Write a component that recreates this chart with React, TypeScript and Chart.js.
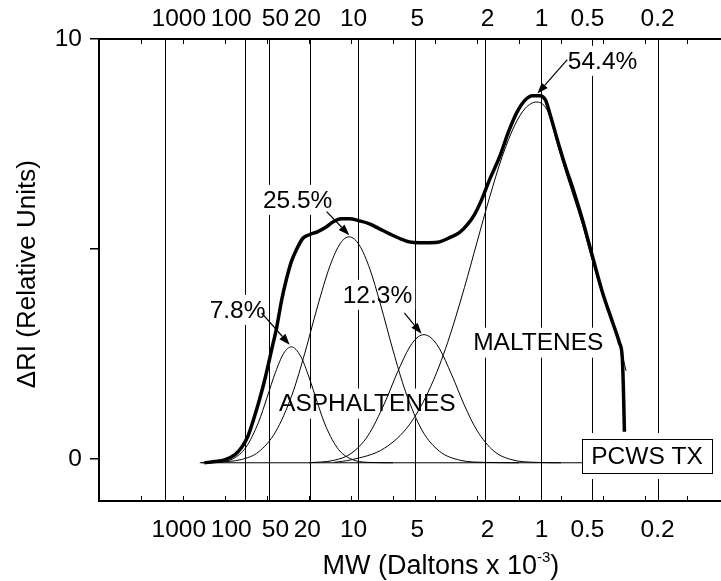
import React, { useEffect, useRef } from 'react';
import { Chart, registerables } from 'chart.js';

Chart.register(...registerables);

// ---------- DATA ----------
// MW tick labels (Daltons x 10^-3), the elution positions of their lines and of their labels
const MW_LABELS = ['1000', '100', '50', '20', '10', '5', '2', '1', '0.5', '0.2'];
const MW_LINE_POS = [1.595, 3.488, 4.06, 5.024, 6.179, 7.536, 9.214, 10.536, 11.75, 13.31];
const MW_LABEL_POS = [1.9, 3.15, 4.2, 4.96, 6.06, 7.58, 9.25, 10.54, 11.63, 13.3];
const MINOR_TICKS = [1, 2, 3, 4, 5, 6, 7, 8, 9, 10, 11, 12, 13, 14];
const Y_TICKS = [0, 5, 10];
const X_MIN = 0;
const X_MAX = 14.81;
const Y_MIN = -1;
const Y_MAX = 10;

// measured chromatogram (thick)
const TOTAL_X = [2.51, 2.75, 2.99, 3.23, 3.39, 3.54, 3.68, 3.82, 3.96, 4.11, 4.23, 4.35, 4.46, 4.58, 4.7, 4.85, 5.01, 5.2, 5.39, 5.58, 5.77, 5.96, 6.2, 6.44, 6.68, 6.92, 7.16, 7.39, 7.63, 7.87, 8.11, 8.35, 8.58, 8.77, 8.94, 9.11, 9.3, 9.54, 9.77, 9.96, 10.15, 10.32, 10.49, 10.63, 10.73, 10.96, 11.13, 11.27, 11.51, 11.75, 11.99, 12.23, 12.39, 12.46, 12.49, 12.51];
const TOTAL_Y = [-0.09, -0.06, -0.02, 0.1, 0.27, 0.53, 0.94, 1.41, 1.94, 2.6, 3.13, 3.79, 4.27, 4.7, 4.98, 5.25, 5.34, 5.41, 5.51, 5.65, 5.72, 5.72, 5.67, 5.6, 5.48, 5.36, 5.25, 5.17, 5.15, 5.15, 5.17, 5.27, 5.39, 5.58, 5.82, 6.17, 6.65, 7.2, 7.84, 8.27, 8.55, 8.65, 8.65, 8.55, 8.24, 7.44, 6.89, 6.48, 5.7, 4.82, 3.96, 3.25, 2.77, 2.41, 1.53, 0.65];

// fitted component 7.8 %
const G1_X = [2.4, 2.8, 3.2, 3.5, 3.8, 4.0, 4.2, 4.4, 4.58, 4.8, 5.0, 5.2, 5.4, 5.7, 6.0, 6.4, 7.0];
const G1_Y = [-0.09, -0.08, 0.01, 0.28, 0.88, 1.46, 2.06, 2.52, 2.67, 2.45, 1.95, 1.34, 0.78, 0.23, 0.0, -0.08, -0.09];
// fitted component 25.5 %
const G2_X = [2.8, 3.4, 3.8, 4.2, 4.6, 4.9, 5.2, 5.5, 5.75, 5.96, 6.2, 6.45, 6.7, 7.0, 7.3, 7.7, 8.1, 8.6, 9.2, 10.0];
const G2_Y = [-0.08, -0.01, 0.17, 0.64, 1.54, 2.52, 3.62, 4.6, 5.14, 5.29, 5.09, 4.52, 3.69, 2.59, 1.6, 0.67, 0.19, -0.03, -0.08, -0.09];
// fitted component 12.3 %
const G3_X = [5.0, 5.6, 6.0, 6.4, 6.8, 7.1, 7.4, 7.6, 7.74, 7.9, 8.1, 8.4, 8.7, 9.0, 9.4, 9.8, 10.4, 11.0];
const G3_Y = [-0.09, -0.03, 0.13, 0.55, 1.33, 2.05, 2.67, 2.91, 2.96, 2.89, 2.64, 2.0, 1.28, 0.68, 0.19, -0.01, -0.08, -0.09];
// fitted component 54.4 %
const G4_X = [5.6, 6.0, 6.8, 7.4, 7.9, 8.3, 8.7, 9.0, 9.3, 9.6, 9.9, 10.15, 10.42, 10.7, 10.9, 11.1, 11.3, 11.5, 11.75, 12.0, 12.2, 12.4, 12.55];
const G4_Y = [-0.08, -0.02, 0.26, 0.83, 1.73, 2.77, 4.08, 5.16, 6.23, 7.2, 7.95, 8.35, 8.5, 8.25, 7.55, 6.88, 6.25, 5.62, 4.72, 3.88, 3.28, 2.7, 2.1];
// baseline
const BASE_X = [2.45, 14.3];
const BASE_Y = [-0.09, -0.09];

// ---------- ANNOTATIONS (data coordinates) ----------
const LABELS = [
  { text: '7.8%', x: 3.3, y: 3.55 },
  { text: '25.5%', x: 4.73, y: 6.17 },
  { text: '12.3%', x: 6.63, y: 3.91 },
  { text: '54.4%', x: 11.99, y: 9.48 },
  { text: 'MALTENES', x: 10.46, y: 2.77 },
  { text: 'ASPHALTENES', x: 6.39, y: 1.32 },
];
const ARROWS = [
  { from: [3.87, 3.48], to: [4.54, 2.72] },
  { from: [5.42, 5.89], to: [5.96, 5.33] },
  { from: [7.27, 3.48], to: [7.68, 2.98] },
  { from: [11.15, 9.51], to: [10.44, 8.7] },
];
const BOX = { text: 'PCWS TX', x: 13.05, y: 0.07 };
const X_TITLE_POS = { x: 8.14 };
const Y_TITLE_POS = { y: 4.4 };

const FONT = '"Liberation Sans", Arial, Helvetica, sans-serif';
const LABEL_SIZE = 24.5;

const pts = (xs: number[], ys: number[]) => xs.map((x, i) => ({ x, y: ys[i] }));

const overlayPlugin = {
  id: 'overlay',
  beforeDatasetsDraw(chart: any) {
    const { ctx } = chart;
    const xs = chart.scales.x;
    const ys = chart.scales.y;
    ctx.save();
    ctx.fillStyle = '#ffffff';
    ctx.font = `${LABEL_SIZE}px ${FONT}`;
    for (const l of LABELS) {
      const cx = xs.getPixelForValue(l.x);
      const cy = ys.getPixelForValue(l.y);
      const w = ctx.measureText(l.text).width;
      ctx.fillRect(cx - w / 2 - 3, cy - 15, w + 6, 30);
    }
    const bx = xs.getPixelForValue(BOX.x);
    const by = ys.getPixelForValue(BOX.y);
    const bw = ctx.measureText(BOX.text).width + 18;
    ctx.fillRect(bx - bw / 2 - 6, by - 17 - 6, bw + 12, 34 + 12);
    ctx.restore();
  },
  afterDatasetsDraw(chart: any) {
    const { ctx, chartArea } = chart;
    const xs = chart.scales.x;
    const ys = chart.scales.y;
    ctx.save();
    // minor ticks (inside, top and bottom)
    ctx.strokeStyle = '#000';
    ctx.lineWidth = 1;
    ctx.beginPath();
    for (const v of MINOR_TICKS) {
      const x = Math.round(xs.getPixelForValue(v)) + 0.5;
      ctx.moveTo(x, chartArea.top);
      ctx.lineTo(x, chartArea.top + 5);
      ctx.moveTo(x, chartArea.bottom);
      ctx.lineTo(x, chartArea.bottom - 5);
    }
    ctx.stroke();

    // arrows
    ctx.fillStyle = '#000';
    for (const a of ARROWS) {
      const x1 = xs.getPixelForValue(a.from[0]);
      const y1 = ys.getPixelForValue(a.from[1]);
      const x2 = xs.getPixelForValue(a.to[0]);
      const y2 = ys.getPixelForValue(a.to[1]);
      const ang = Math.atan2(y2 - y1, x2 - x1);
      const L = 11;
      const W = 4;
      const hx = x2 - L * Math.cos(ang);
      const hy = y2 - L * Math.sin(ang);
      ctx.lineWidth = 1.2;
      ctx.beginPath();
      ctx.moveTo(x1, y1);
      ctx.lineTo(hx, hy);
      ctx.stroke();
      ctx.beginPath();
      ctx.moveTo(x2, y2);
      ctx.lineTo(hx + W * Math.sin(ang), hy - W * Math.cos(ang));
      ctx.lineTo(hx - W * Math.sin(ang), hy + W * Math.cos(ang));
      ctx.closePath();
      ctx.fill();
    }

    // labels
    ctx.font = `${LABEL_SIZE}px ${FONT}`;
    ctx.textAlign = 'center';
    ctx.textBaseline = 'middle';
    ctx.fillStyle = '#000';
    for (const l of LABELS) {
      ctx.fillText(l.text, xs.getPixelForValue(l.x), ys.getPixelForValue(l.y) + 1);
    }

    // PCWS TX box
    const bx = xs.getPixelForValue(BOX.x);
    const by = ys.getPixelForValue(BOX.y);
    const bw = ctx.measureText(BOX.text).width + 18;
    ctx.fillStyle = '#fff';
    ctx.fillRect(bx - bw / 2, by - 17, bw, 34);
    ctx.strokeStyle = '#000';
    ctx.lineWidth = 1;
    ctx.strokeRect(Math.round(bx - bw / 2) + 0.5, Math.round(by - 17) + 0.5, Math.round(bw), 34);
    ctx.fillStyle = '#000';
    ctx.fillText(BOX.text, bx, by + 1);
    ctx.restore();
  },
  afterDraw(chart: any) {
    const { ctx } = chart;
    const xs = chart.scales.x;
    const ys = chart.scales.y;
    ctx.save();
    // x-axis title with superscript
    const main = 'MW (Daltons x 10';
    const sup = '-3';
    const close = ')';
    ctx.font = `27px ${FONT}`;
    const w1 = ctx.measureText(main).width;
    const w3 = ctx.measureText(close).width;
    ctx.font = `15px ${FONT}`;
    const w2 = ctx.measureText(sup).width;
    const cx = xs.getPixelForValue(X_TITLE_POS.x);
    const base = 574;
    let x = cx - (w1 + w2 + w3) / 2;
    ctx.fillStyle = '#000';
    ctx.textAlign = 'left';
    ctx.textBaseline = 'alphabetic';
    ctx.font = `27px ${FONT}`;
    ctx.fillText(main, x, base);
    x += w1;
    ctx.font = `15px ${FONT}`;
    ctx.fillText(sup, x, base - 12);
    x += w2;
    ctx.font = `27px ${FONT}`;
    ctx.fillText(close, x, base);

    // y-axis title
    ctx.translate(28, ys.getPixelForValue(Y_TITLE_POS.y));
    ctx.rotate(-Math.PI / 2);
    ctx.textAlign = 'center';
    ctx.textBaseline = 'middle';
    ctx.font = `26px ${FONT}`;
    ctx.fillText('ΔRI (Relative Units)', 0, 0);
    ctx.restore();
  },
};

export default function App() {
  const ref = useRef<HTMLCanvasElement>(null);
  useEffect(() => {
    const thin = {
      borderColor: '#000',
      borderWidth: 1,
      pointRadius: 0,
      fill: false,
      cubicInterpolationMode: 'monotone' as const,
      xAxisID: 'x',
      yAxisID: 'y',
    };
    const tickFont = { family: FONT, size: LABEL_SIZE };
    const chart = new Chart(ref.current as HTMLCanvasElement, {
      type: 'line',
      data: {
        datasets: [
          { ...thin, data: pts(TOTAL_X, TOTAL_Y), borderWidth: 3.5 },
          { ...thin, data: pts(G1_X, G1_Y) },
          { ...thin, data: pts(G2_X, G2_Y) },
          { ...thin, data: pts(G3_X, G3_Y) },
          { ...thin, data: pts(G4_X, G4_Y) },
          { ...thin, data: pts(BASE_X, BASE_Y) },
        ],
      },
      options: {
        responsive: false,
        animation: false,
        events: [],
        layout: { padding: 0 },
        plugins: { legend: { display: false }, tooltip: { enabled: false } },
        scales: {
          x: {
            type: 'linear',
            position: 'bottom',
            min: X_MIN,
            max: X_MAX,
            afterBuildTicks: (s: any) => {
              s.ticks = MW_LABEL_POS.map((v) => ({ value: v }));
            },
            afterFit: (s: any) => {
              s.height = 80;
            },
            ticks: {
              autoSkip: false,
              maxRotation: 0,
              minRotation: 0,
              padding: 7,
              color: '#000',
              font: tickFont,
              callback: (_v: any, i: number) => MW_LABELS[i],
            },
            grid: { display: false },
            border: { display: true, color: '#000', width: 2 },
          },
          x2: {
            type: 'linear',
            position: 'top',
            min: X_MIN,
            max: X_MAX,
            afterBuildTicks: (s: any) => {
              s.ticks = MW_LABEL_POS.map((v) => ({ value: v }));
            },
            afterFit: (s: any) => {
              s.height = 39;
            },
            ticks: {
              autoSkip: false,
              maxRotation: 0,
              minRotation: 0,
              padding: -3,
              color: '#000',
              font: tickFont,
              callback: (_v: any, i: number) => MW_LABELS[i],
            },
            grid: { display: false },
            border: { display: true, color: '#000', width: 2 },
          },
          xg: {
            type: 'linear',
            position: 'bottom',
            min: X_MIN,
            max: X_MAX,
            afterBuildTicks: (s: any) => {
              s.ticks = MW_LINE_POS.map((v) => ({ value: v }));
            },
            afterFit: (s: any) => {
              s.height = 0;
            },
            ticks: { display: false },
            grid: { display: true, drawOnChartArea: true, drawTicks: false, color: '#000', lineWidth: 1 },
            border: { display: false },
          },
          y: {
            type: 'linear',
            position: 'left',
            min: Y_MIN,
            max: Y_MAX,
            afterBuildTicks: (s: any) => {
              s.ticks = Y_TICKS.map((v) => ({ value: v }));
            },
            afterFit: (s: any) => {
              s.width = 99;
            },
            ticks: {
              padding: 8,
              color: '#000',
              font: tickFont,
              callback: (v: any) => (v === 5 ? '' : String(v)),
            },
            grid: { drawOnChartArea: false, drawTicks: true, tickLength: 9, color: '#000', lineWidth: 1.5 },
            border: { display: true, color: '#000', width: 2 },
          },
        },
      },
      plugins: [overlayPlugin],
    } as any);
    return () => chart.destroy();
  }, []);
  return (
    <div style={{ position: 'fixed', left: 0, top: 0, width: 721, height: 581, background: '#fff' }}>
      <canvas ref={ref} width={721} height={581} style={{ display: 'block' }} />
    </div>
  );
}
